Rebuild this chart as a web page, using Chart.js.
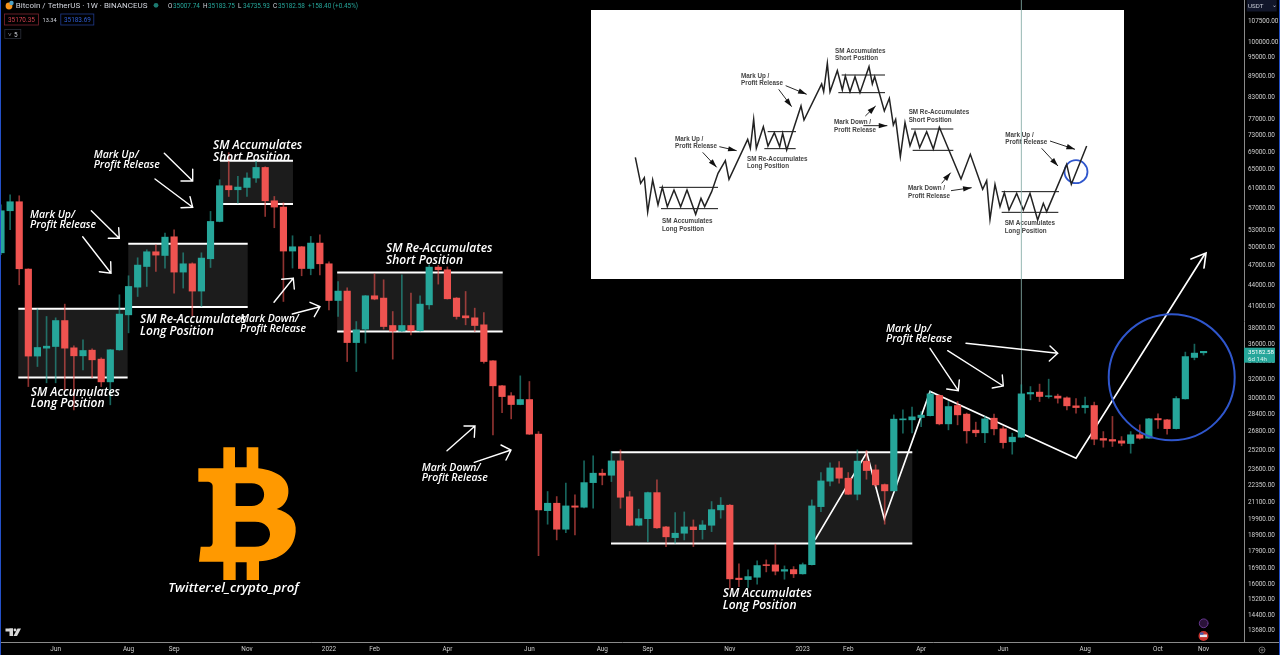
<!DOCTYPE html>
<html>
<head>
<meta charset="utf-8">
<title>Bitcoin / TetherUS 1W</title>
<script src="https://cdn.jsdelivr.net/npm/chart.js@4/dist/chart.umd.min.js"></script>
<style>
  html, body { margin: 0; padding: 0; background: #000; overflow: hidden; }
  canvas { position: absolute; display: block; }
  #sketch { left: 591px; top: 10px; background: #fff; z-index: 0; }
  #chart { left: 0; top: 0; z-index: 1; }
</style>
</head>
<body>
<canvas id="sketch" width="533" height="269"></canvas>
<canvas id="chart" width="1280" height="655"></canvas>
<script>
// weekly candles (index 0 = last week of Apr 2021)
const opens = [
  49090,56590,58340,46460,34620,35560,35760,39040,35600,34650,35320,34265,31730,35361,39800,43710,46870,49260,48650,51820,
  45990,47300,43130,48110,54580,61580,60754,61230,63210,65510,58530,57300,49380,50100,46550,50730,47300,41780,43130,36240,
  37930,42450,42120,38390,37670,38390,37710,41170,46770,46351,42120,39670,39400,38480,34070,31310,30270,29390,29890,26590,
  20530,21050,19280,20860,20770,22570,23300,23140,24290,21510,19540,19980,21820,19430,18740,19020,19430,19250,19540,20581,
  20910,16340,16260,16390,17100,17090,16730,16820,16580,17100,20810,22680,23720,22910,21700,24270,23563,22420,21950,27906,
  27906,28130,28300,30300,27530,29290,28450,26950,26710,28060,27070,25910,26320,30460,30650,30200,30240,30060,29260,29090,
  29290,26200,26110,25990,25760,26530,26230,28030,27906,27090,29960,34460,35007.74
];
const highs = [
  57750,59730,59530,46510,40620,39580,39400,41270,35840,36578,35480,34420,35400,42590,45420,48270,49595,50440,52480,53066,
  49090,47460,49090,56460,62844,68850,63550,64350,66860,65670,59390,58140,52000,50150,51880,52170,47620,44550,43610,38910,
  42500,45730,44809,40250,45570,42840,42450,47140,47050,46800,42200,43070,40710,40120,34100,31350,30600,32380,31770,26820,
  21900,21530,22530,21650,24290,24710,23620,25070,25213,21900,20630,21860,22780,19470,20390,20440,19897,19850,21170,21460,
  20960,17145,16801,17320,17379,18330,17030,16990,17200,21289,23350,24130,24230,23350,25213,25150,23960,22470,28380,28866,
  29130,28700,30710,30370,29690,29690,28550,27690,28230,28450,27280,26680,31420,31230,31490,32020,30440,30170,29990,30130,
  29630,26820,28230,26370,26820,27440,28060,28480,27950,30190,35090,36050,35183.75
];
const lows = [
  48760,53066,44060,31230,33420,31630,31630,30886,28866,33048,32170,31230,29360,35300,37450,42350,43810,46090,46620,42840,
  43570,39670,40940,46710,54500,59390,58080,59390,62270,55510,53430,41640,46620,45420,45570,45570,40485,39580,33990,32860,
  36170,41878,37930,34265,37620,37200,37650,40580,44160,41980,39230,38480,37620,33800,26530,28600,28000,29360,26550,17630,
  19610,18595,19060,18910,20720,20700,22400,22650,20700,19500,19500,18490,19330,18180,18390,18595,18180,18640,19125,20010,
  15790,15880,15840,16010,16690,16520,16280,16370,16560,17080,20460,22320,22530,21680,21289,22830,22270,19610,21920,26680,
  26710,27280,28270,27440,26978,27440,25790,26370,25840,26530,25360,24850,26280,29859,29690,30030,29530,28866,28550,28550,
  25650,25440,25500,25560,24930,26140,26200,27120,26590,27050,29930,34185,34735.93
];
const closes = [
  56590,58340,46510,34620,35640,35800,39040,35560,34650,35280,34185,31730,35361,39900,43810,47090,49260,48710,51760,45990,
  47300,43130,48220,54580,61580,60754,61310,63210,65510,58530,57300,49380,50100,46550,50730,47300,41780,43130,36240,37836,
  42450,41980,38260,37670,38390,37710,41270,46770,46351,42020,39580,39400,38390,33990,31310,30190,29390,29890,26590,20581,
  21050,19280,20860,20770,22570,23300,23140,24290,21480,19540,19980,21820,19370,18790,19020,19430,19250,19560,20600,20910,
  16300,16260,16425,17050,17050,16730,16820,16580,17100,20860,22700,23720,22910,21700,24270,23510,22400,21950,27970,28000,
  28190,28350,30470,27530,29190,28380,26890,26710,28000,27070,25840,26320,30470,30610,30200,30270,30030,29260,29090,29290,
  26140,26050,25970,25790,26530,26230,28000,27906,27090,29990,34560,34970,35182.58
];

// axis labels
const monthIndex = [6,14,19,27,36,41,49,58,66,71,80,88,93,101,110,119,127,132];
const monthLabels = ['Jun','Aug','Sep','Nov','2022','Feb','Apr','Jun','Aug','Sep','Nov','2023','Feb','Apr','Jun','Aug','Oct','Nov'];
const priceTicks = [107500,100000,95000,89000,83000,77000,73000,69000,65000,61000,57000,53000,50000,47000,44000,41000,38000,36000,34000,
  32000,30000,28400,26800,25200,23600,22350,21100,19900,18900,17900,16900,16000,15200,14400,13680];

// drawn ranges: [first week, last week, top price, bottom price]
const ranges = [
  [1.9, 13.9, 40620, 32200],
  [13.97, 27.08, 50610, 40860],
  [24.04, 32.05, 67015, 57880],
  [36.9, 55.07, 45930, 37620],
  [66.96, 100.03, 25020, 18365]
];
// white zigzag over the chart
const zigzagWeeks = [89.35, 95.03, 96.96, 101.98, 118.0, 132.16];
const zigzagPrices = [18595, 24980, 19960, 30710, 24510, 48930];
const markerWeek = 112;

// small sketch pasted on top, in its own units
const sketchX = [136,152,163,173,188,204,217,232,252,272,291,317,333,344,365,384,406,417,473,481,491,499,520,534,553,569,578,590,633,642,695,701,712,720,742,757,766,780,795,810,837,847,854,883,898,910,917,931,945,960,975,989,1010,1030,1048,1113,1141,1178,1190,1200,1215,1230,1243,1257,1280,1300,1320,1343,1360,1370,1430,1444,1490];
const sketchY = [442,520,503,606,510,585,532,590,540,590,540,613,565,590,545,490,452,508,388,415,328,415,350,408,368,410,370,420,288,330,222,245,160,245,182,240,198,245,200,248,170,222,200,303,265,345,328,440,338,407,365,413,365,417,352,507,433,538,512,628,523,590,548,600,550,600,550,630,580,605,463,523,408];
const sketchBoxes = [
  [208,384,532],[213,384,596],[533,618,365],[523,617,416],[755,885,195],[745,885,248],
  [963,1090,357],[968,1090,421],[1235,1407,545],[1235,1405,607]
];
const sketchCircle = [1458, 485];

function candleColor(i, alpha) {
  return closes[i] >= opens[i] ? 'rgba(38,166,154,' + alpha + ')' : 'rgba(239,83,80,' + alpha + ')';
}

const TEXT = 'italic 600 12px "Open Sans"';
const TEXT_SMALL = 'italic 600 10.5px "Open Sans"';

// [left, first baseline, second baseline, line 1, line 2, font]
const notes = [
  [213, 149, 161, 'SM Accumulates', 'Short Position', TEXT],
  [93.7, 157.7, 167.7, 'Mark Up/', 'Profit Release', TEXT_SMALL],
  [30, 218, 227.7, 'Mark Up/', 'Profit Release', TEXT_SMALL],
  [30.7, 396, 407, 'SM Accumulates', 'Long Position', TEXT],
  [140, 323.3, 335, 'SM Re-Accumulates', 'Long Position', TEXT],
  [240, 322.3, 332.3, 'Mark Down/', 'Profit Release', TEXT_SMALL],
  [386, 252, 264, 'SM Re-Accumulates', 'Short Position', TEXT],
  [421.7, 470.7, 480.7, 'Mark Down/', 'Profit Release', TEXT_SMALL],
  [722.7, 596.7, 608.7, 'SM Accumulates', 'Long Position', TEXT],
  [886, 331.7, 341.7, 'Mark Up/', 'Profit Release', TEXT_SMALL]
];

// shaft from, shaft to, then the two ends of the open head
const arrows = [
  [164.3,153.3,192.7,181, 181,181,192.7,169.3],
  [155,179,192.7,207.3, 181,207.7,190,196.7],
  [91.3,210.7,119.3,238.3, 108.3,238.3,118.7,227.7],
  [82.7,236.7,111,273.3, 99.3,271.7,110.7,261.7],
  [274,302.3,293.3,278.3, 281.7,279.3,294.3,289],
  [292.3,314,320,306.7, 310,302.3,314.3,316.7],
  [447,450.7,475,426, 464,426,474.3,437.3],
  [474.3,462.3,511,450, 501,445,506,460],
  [930,348.3,958.3,390.7, 946.7,389,959.3,380],
  [947.7,350.7,1003.3,386, 992.3,388,1002.3,375],
  [966,343.3,1057.7,353.3, 1050,346,1049.3,361]
];

function drawLogo(ctx) {
  // coordinates are 3x, offset by the logo corner
  ctx.save();
  ctx.translate(140, 430);
  ctx.scale(1 / 3, 1 / 3);
  const p = new Path2D();
  p.moveTo(250, 52); p.lineTo(285, 52); p.lineTo(285, 112); p.lineTo(320, 112); p.lineTo(320, 52); p.lineTo(355, 52); p.lineTo(355, 115);
  p.bezierCurveTo(415, 122, 450, 150, 445, 190);
  p.bezierCurveTo(442, 215, 430, 230, 410, 237);
  p.bezierCurveTo(450, 248, 470, 270, 467, 305);
  p.bezierCurveTo(462, 360, 420, 390, 357, 394);
  p.lineTo(357, 450); p.lineTo(320, 450); p.lineTo(320, 397); p.lineTo(287, 397); p.lineTo(287, 450); p.lineTo(250, 450); p.lineTo(250, 395);
  p.lineTo(177, 395); p.lineTo(182, 350); p.lineTo(205, 350);
  p.bezierCurveTo(215, 350, 218, 345, 218, 335);
  p.lineTo(218, 170);
  p.bezierCurveTo(218, 160, 212, 155, 200, 155);
  p.lineTo(175, 155); p.lineTo(175, 115); p.lineTo(250, 115); p.closePath();
  // holes of the B
  p.moveTo(287, 160); p.lineTo(335, 160);
  p.bezierCurveTo(385, 160, 385, 228, 335, 228);
  p.lineTo(287, 228); p.closePath();
  p.moveTo(287, 275); p.lineTo(345, 275);
  p.bezierCurveTo(405, 275, 405, 350, 345, 350);
  p.lineTo(287, 350); p.closePath();
  ctx.fillStyle = '#ff9900';
  ctx.fill(p, 'evenodd');
  ctx.restore();
}

function drawHeader(ctx) {
  ctx.textBaseline = 'alphabetic';
  ctx.textAlign = 'left';
  // pair icon
  ctx.fillStyle = '#f7931a';
  ctx.beginPath(); ctx.arc(9, 6, 3.4, 0, Math.PI * 2); ctx.fill();
  ctx.fillStyle = '#4fa3c7';
  ctx.beginPath(); ctx.arc(11.5, 3, 2.2, 0, Math.PI * 2); ctx.fill();

  ctx.font = '8px Roboto';
  ctx.fillStyle = '#d1d4dc';
  ctx.fillText('Bitcoin / TetherUS · 1W · BINANCEUS', 15.7, 8.3);
  ctx.fillStyle = '#1c7a70';
  ctx.beginPath(); ctx.arc(156, 5.3, 2.4, 0, Math.PI * 2); ctx.fill();

  const ohlc = [['O', '35007.74', 168], ['H', '35183.75', 203], ['L', '34735.93', 238], ['C', '35182.58', 273]];
  ctx.font = '6.4px Roboto';
  ohlc.forEach(function (v) {
    ctx.fillStyle = '#d1d4dc';
    ctx.fillText(v[0], v[2], 8);
    ctx.fillStyle = '#26a69a';
    ctx.fillText(v[1], v[2] + 5, 8);
  });
  ctx.fillText('+158.40 (+0.45%)', 308, 8);

  // bid / ask row
  ctx.lineWidth = 0.8;
  ctx.strokeStyle = '#7c2530';
  ctx.strokeRect(4.5, 14, 34, 11);
  ctx.fillStyle = '#d0404e';
  ctx.fillText('35170.35', 8, 22);
  ctx.fillStyle = '#d1d4dc';
  ctx.font = '5.6px Roboto';
  ctx.fillText('13.34', 42.5, 21.8);
  ctx.font = '6.4px Roboto';
  ctx.strokeStyle = '#1f3a8a';
  ctx.strokeRect(60.8, 14, 33, 11);
  ctx.fillStyle = '#2f5fd8';
  ctx.fillText('35183.69', 64, 22);

  ctx.strokeStyle = '#2a2e39';
  ctx.strokeRect(4.8, 29.5, 16, 9);
  ctx.fillStyle = '#d1d4dc';
  ctx.fillText('˅', 8, 36.5);
  ctx.fillText('5', 14, 36.5);
}

function drawCorners(ctx) {
  // right axis furniture
  ctx.fillStyle = '#11162a';
  ctx.fillRect(1246.7, 0, 30, 11.5);
  ctx.fillStyle = '#c8ccd6';
  ctx.font = '6.2px Roboto';
  ctx.textAlign = 'left';
  ctx.fillText('USDT', 1248, 8);
  ctx.fillText('⌄', 1272, 6.5);

  ctx.fillStyle = '#26a69a';
  ctx.fillRect(1244, 347.7, 31, 15);
  ctx.fillStyle = '#fff';
  ctx.fillText('35182.58', 1248, 354.2);
  ctx.fillStyle = '#d5f0ec';
  ctx.fillText('6d 14h', 1248, 360.8);

  // horizontal rule under the pane, blue window edges
  ctx.fillStyle = '#8a8a8a';
  ctx.fillRect(1244, 642, 36, 1);
  ctx.fillStyle = '#2450c8';
  ctx.fillRect(0, 0, 1, 655);
  ctx.fillRect(1279, 0, 1, 655);

  // settings cog
  ctx.strokeStyle = '#777';
  ctx.lineWidth = 0.9;
  ctx.beginPath(); ctx.arc(1262, 650, 3, 0, Math.PI * 2); ctx.stroke();
  ctx.beginPath(); ctx.arc(1262, 650, 1, 0, Math.PI * 2); ctx.stroke();

  // event badges
  ctx.fillStyle = '#2a1238';
  ctx.strokeStyle = '#6c3a96';
  ctx.beginPath(); ctx.arc(1203.7, 623.3, 4.4, 0, Math.PI * 2); ctx.fill(); ctx.stroke();
  ctx.fillStyle = '#c9342f';
  ctx.beginPath(); ctx.arc(1203.5, 636, 5, 0, Math.PI * 2); ctx.fill();
  ctx.fillStyle = '#e8e8f0';
  ctx.fillRect(1200, 634.5, 7, 2.6);
  ctx.fillStyle = '#3a5bb0';
  ctx.fillRect(1200, 632.5, 3.4, 2.2);

  // TV logo
  ctx.fillStyle = '#d8d8d8';
  ctx.fillRect(5.5, 628.5, 7.5, 3);
  ctx.fillRect(9.5, 628.5, 3.5, 7.5);
  ctx.beginPath(); ctx.arc(15, 630, 1.4, 0, Math.PI * 2); ctx.fill();
  ctx.beginPath();
  ctx.moveTo(17.5, 628.5); ctx.lineTo(21, 628.5); ctx.lineTo(17, 636); ctx.lineTo(13.5, 636);
  ctx.closePath(); ctx.fill();
}

const overlayPlugin = {
  id: 'overlay',
  beforeDatasetsDraw(chart) {
    const ctx = chart.ctx, x = chart.scales.x, y = chart.scales.y;
    ctx.save();
    ctx.fillStyle = '#1c1c1c';
    ranges.forEach(function (r) {
      const left = x.getPixelForValue(r[0]), top = y.getPixelForValue(r[2]);
      ctx.fillRect(left, top, x.getPixelForValue(r[1]) - left, y.getPixelForValue(r[3]) - top);
    });
    ctx.restore();
  },
  afterDatasetsDraw(chart) {
    const ctx = chart.ctx;
    ctx.save();

    // big blue circle
    ctx.strokeStyle = '#2f56cc';
    ctx.lineWidth = 2;
    ctx.beginPath(); ctx.arc(1171.7, 377.3, 63, 0, Math.PI * 2); ctx.stroke();

    // arrows
    ctx.strokeStyle = '#fff';
    ctx.lineWidth = 1.4;
    ctx.lineCap = 'round';
    arrows.forEach(function (a) {
      ctx.beginPath();
      ctx.moveTo(a[0], a[1]); ctx.lineTo(a[2], a[3]);
      ctx.moveTo(a[4], a[5]); ctx.lineTo(a[2], a[3]); ctx.lineTo(a[6], a[7]);
      ctx.stroke();
    });
    // head of the zigzag
    ctx.lineWidth = 1.7;
    ctx.beginPath();
    ctx.moveTo(1191, 259); ctx.lineTo(1206, 253); ctx.lineTo(1204, 268);
    ctx.stroke();

    // notes
    ctx.fillStyle = '#fff';
    ctx.textAlign = 'left';
    ctx.textBaseline = 'alphabetic';
    notes.forEach(function (n) {
      ctx.font = n[5];
      ctx.fillText(n[3], n[0], n[1]);
      ctx.fillText(n[4], n[0], n[2]);
    });
    ctx.font = 'italic 600 13.2px "Open Sans"';
    ctx.fillText('Twitter:el_crypto_prof', 168.3, 592.3);

    drawLogo(ctx);
    drawHeader(ctx);
    drawCorners(ctx);
    ctx.restore();
  }
};

// candle = thin bar for the wick + wider bar for the body
const wickData = highs.map((h, i) => ({ x: i, y: [lows[i], h] }));
const bodyData = opens.map((o, i) => ({ x: i, y: [o, closes[i]] }));
const bodyColors = opens.map((o, i) => candleColor(i, 1));
const wickColors = opens.map((o, i) => candleColor(i, 0.6));

const lineSets = [];
ranges.forEach(function (r) {
  [r[2], r[3]].forEach(function (price) {
    lineSets.push({
      type: 'line', order: 3, borderColor: '#fff', borderWidth: 2, pointRadius: 0,
      data: [{ x: r[0], y: price }, { x: r[1], y: price }]
    });
  });
});
lineSets.push({
  type: 'line', order: 3, borderColor: '#fff', borderWidth: 1.7, pointRadius: 0, tension: 0,
  data: zigzagWeeks.map((w, i) => ({ x: w, y: zigzagPrices[i] }))
});
// the long vertical marker above the June candle
lineSets.push({
  type: 'line', order: 4, borderColor: 'rgba(130,170,165,0.85)', borderWidth: 1, pointRadius: 0,
  data: [{ x: markerWeek, y: 30470 }, { x: markerWeek, y: 115400 }]
});

new Chart(document.getElementById('chart').getContext('2d'), {
  type: 'bar',
  data: {
    datasets: [
      { order: 1, grouped: false, barThickness: 6.5, backgroundColor: bodyColors, data: bodyData },
      { order: 2, grouped: false, barThickness: 1, backgroundColor: wickColors, data: wickData }
    ].concat(lineSets)
  },
  options: {
    responsive: false,
    animation: false,
    layout: { padding: 0, autoPadding: false },
    plugins: { legend: { display: false }, tooltip: { enabled: false } },
    scales: {
      x: {
        type: 'linear',
        offset: false,
        min: -0.11,
        max: 136.44,
        grid: { display: false, drawTicks: false },
        border: { display: true, color: '#8a8a8a' },
        afterBuildTicks(axis) { axis.ticks = monthIndex.map(v => ({ value: v })); },
        afterFit(axis) {
          axis.height = 13;
          axis.paddingLeft = axis.paddingRight = 0;
        },
        ticks: {
          autoSkip: false, maxRotation: 0, padding: 4, color: '#cfcfcf',
          font: { family: 'Roboto', size: 6.4 },
          callback: (v) => monthLabels[monthIndex.indexOf(v)]
        }
      },
      y: {
        type: 'logarithmic',
        position: 'right',
        min: 13167,
        max: 115400,
        grid: { display: false, drawTicks: false },
        border: { display: true, color: '#8a8a8a' },
        afterBuildTicks(axis) { axis.ticks = priceTicks.map(v => ({ value: v })); },
        afterFit(axis) {
          axis.width = 36;
          axis.paddingTop = axis.paddingBottom = 0;
        },
        ticks: {
          autoSkip: false, padding: 4, color: '#cfcfcf',
          font: { family: 'Roboto', size: 6.4 },
          callback: (v) => Number(v).toFixed(2)
        }
      }
    }
  },
  plugins: [overlayPlugin]
});

// ---- the pasted sketch ----
const sketchNotes = [
  [255, 392, 'Mark Up /'], [255, 415, 'Profit Release'],
  [216, 640, 'SM Accumulates'], [216, 663, 'Long Position'],
  [453, 203, 'Mark Up /'], [453, 226, 'Profit Release'],
  [471, 452, 'SM Re-Accumulates'], [471, 474, 'Long Position'],
  [735, 128, 'SM Accumulates'], [735, 151, 'Short Position'],
  [732, 342, 'Mark Down /'], [732, 365, 'Profit Release'],
  [956, 312, 'SM Re-Accumulates'], [956, 335, 'Short Position'],
  [954, 541, 'Mark Down /'], [954, 563, 'Profit Release'],
  [1246, 380, 'Mark Up /'], [1246, 403, 'Profit Release'],
  [1244, 646, 'SM Accumulates'], [1244, 669, 'Long Position']
];
const sketchArrows = [
  [388,410,440,422],[338,427,380,472],[587,227,650,253],[566,238,605,290],
  [826,318,857,288],[820,347,892,347],[1055,520,1082,488],[1083,542,1145,533],
  [1380,393,1455,418],[1355,415,1404,468]
];

const sketchPlugin = {
  id: 'sketchOverlay',
  afterDatasetsDraw(chart) {
    const ctx = chart.ctx, x = chart.scales.x, y = chart.scales.y;
    ctx.save();
    ctx.fillStyle = '#444';
    ctx.font = 'bold 6.3px "Liberation Sans"';
    ctx.textBaseline = 'alphabetic';
    sketchNotes.forEach(function (n) {
      ctx.fillText(n[2], x.getPixelForValue(n[0]), y.getPixelForValue(n[1]));
    });
    ctx.strokeStyle = '#111';
    ctx.fillStyle = '#111';
    ctx.lineWidth = 0.9;
    sketchArrows.forEach(function (a) {
      const x1 = x.getPixelForValue(a[0]), y1 = y.getPixelForValue(a[1]);
      const x2 = x.getPixelForValue(a[2]), y2 = y.getPixelForValue(a[3]);
      const ang = Math.atan2(y2 - y1, x2 - x1);
      ctx.beginPath(); ctx.moveTo(x1, y1); ctx.lineTo(x2, y2); ctx.stroke();
      ctx.beginPath();
      ctx.moveTo(x2, y2);
      ctx.lineTo(x2 - 9 * Math.cos(ang - 0.3), y2 - 9 * Math.sin(ang - 0.3));
      ctx.lineTo(x2 - 9 * Math.cos(ang + 0.3), y2 - 9 * Math.sin(ang + 0.3));
      ctx.closePath(); ctx.fill();
    });
    ctx.restore();
  }
};

const sketchSets = [{
  borderColor: '#222', borderWidth: 1.5, showLine: true, pointRadius: 0,
  data: sketchX.map((v, i) => ({ x: v, y: sketchY[i] }))
}];
sketchBoxes.forEach(function (b) {
  sketchSets.push({
    borderColor: '#111', borderWidth: 1, showLine: true, pointRadius: 0,
    data: [{ x: b[0], y: b[2] }, { x: b[1], y: b[2] }]
  });
});
sketchSets.push({
  showLine: false, pointRadius: 11.5, pointBorderColor: '#2f56cc', pointBorderWidth: 1.8,
  pointBackgroundColor: 'rgba(0,0,0,0)',
  data: [{ x: sketchCircle[0], y: sketchCircle[1] }]
});

new Chart(document.getElementById('sketch').getContext('2d'), {
  type: 'scatter',
  data: { datasets: sketchSets },
  options: {
    responsive: false,
    animation: false,
    layout: { padding: 0, autoPadding: false },
    plugins: { legend: { display: false }, tooltip: { enabled: false } },
    scales: {
      x: { type: 'linear', display: false, min: 3, max: 1602 },
      y: { type: 'linear', display: false, min: 0, max: 807, reverse: true }
    }
  },
  plugins: [sketchPlugin]
});
</script>
</body>
</html>
